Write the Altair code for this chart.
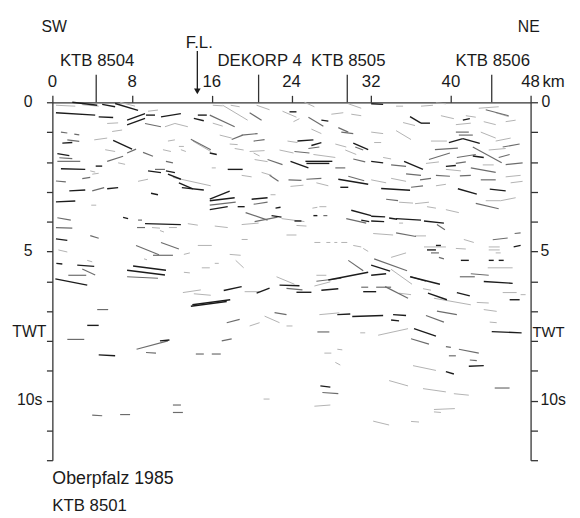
import altair as alt
import pandas as pd

# ---- reflector segments: (km1, s1, km2, s2) ----
DARK = [
    (2.0,0.0,4.5,0.1),(5.0,0.07,6.3,0.15),(6.3,0.04,8.6,0.27),(0.36,0.35,4.3,0.43),
    (4.65,0.49,6.1,0.51),(7.5,0.6,9.3,0.38),(7.5,0.76,9.3,0.54),(9.4,0.43,10.3,0.43),
    (10.9,0.49,12.9,0.38),(14.6,0.43,15.5,0.43),(14.2,0.54,15.2,0.62),(1.0,1.37,2.0,1.35),
    (6.1,1.28,8.0,1.57),(0.5,1.72,1.7,1.79),(0.86,2.23,3.3,2.25),(4.35,2.14,5.0,2.14),
    (1.7,2.97,3.3,2.94),(5.5,2.9,6.6,2.86),(9.6,2.3,10.9,2.36),(11.4,2.3,12.3,2.36),
    (11.6,2.41,12.9,2.58),(12.7,2.7,14.1,2.9),(13.0,2.86,15.2,2.94),(9.9,3.05,10.6,3.1),
    (23.8,0.32,24.5,0.32),(27.0,0.6,27.7,0.63),(15.8,1.7,16.5,1.75),(24.6,1.3,26.2,1.26),
    (26.0,1.45,27.0,1.35),(23.9,1.98,25.7,2.2),(25.4,1.98,28.1,1.98),(25.5,2.05,27.8,2.05),
    (30.2,1.37,31.7,1.59),(28.7,2.58,31.7,2.75),(28.9,2.85,29.7,2.85),(17.6,2.25,19.1,2.25),
    (15.8,3.25,17.8,2.98),(32.0,0.05,33.2,0.07),(35.9,0.48,37.0,0.7),(37.0,0.7,37.9,0.7),
    (41.2,0.6,41.9,0.55),(39.8,1.35,41.2,1.22),(41.2,1.22,42.9,1.38),(32.0,1.98,33.2,2.03),
    (35.3,1.98,37.2,2.25),(39.5,2.15,40.5,2.12),(42.2,1.8,43.3,1.85),(33.0,2.89,35.9,2.95),
    (40.7,2.9,42.6,3.08),(43.9,2.91,45.5,2.97),(0.36,3.34,2.3,3.31),(0.36,4.58,1.5,4.63),
    (0.4,5.4,1.0,5.42),(2.5,5.46,4.2,5.5),(0.3,5.92,3.5,6.13),(7.1,3.86,7.6,3.9),
    (9.3,4.07,12.9,4.1),(7.5,5.63,11.3,5.79),(8.1,5.49,11.4,5.63),(15.8,3.3,18.3,3.2),
    (15.8,3.6,17.6,3.5),(20.0,3.25,21.6,3.2),(18.6,3.5,19.3,3.5),(22.4,3.55,22.9,3.52),
    (22.0,3.8,23.0,3.85),(24.3,3.98,25.0,3.98),(26.2,3.8,26.6,3.8),(30.0,3.62,32.0,3.8),
    (31.0,3.95,31.8,4.0),(27.7,5.96,31.7,5.7),(27.0,6.3,28.7,6.25),(22.8,6.13,24.8,6.15),
    (24.5,6.37,26.0,6.37),(32.0,3.82,33.4,3.84),(32.0,3.98,33.3,4.0),(33.8,3.88,34.6,3.92),
    (34.5,3.9,37.0,3.95),(37.3,3.98,39.3,4.05),(37.6,4.95,38.5,4.95),(38.5,4.8,39.0,4.8),
    (46.3,4.85,47.0,4.8),(41.0,5.3,41.8,5.3),(43.8,5.3,44.3,5.3),(44.8,5.3,45.3,5.3),
    (32.0,5.46,33.9,5.66),(32.0,5.8,33.5,5.75),(35.9,5.85,38.9,6.1),
    (13.9,6.84,17.5,6.68),(14.05,6.79,17.85,6.62),(17.2,6.31,19.0,6.18),(20.5,6.4,21.8,6.23),
    (10.8,8.0,11.75,7.97),(3.5,7.48,4.65,7.48),(4.65,8.47,6.3,8.5),(28.6,7.12,29.9,7.1),
    (30.1,7.18,33.2,7.15),(34.2,7.12,35.5,7.15),(34.0,7.3,34.8,7.33),(31.2,6.35,32.5,6.35),
    (37.7,6.4,39.6,6.62),(40.6,6.38,41.9,6.49),(43.3,6.01,46.2,6.07),(45.9,6.62,46.9,6.62),
    (44.1,7.69,47.1,7.73),(36.3,7.59,38.5,7.84),(41.8,8.85,43.3,8.83),(39.5,9.03,40.3,9.11),
    (26.9,9.51,27.9,9.55),
]

MID = [
    (9.3,0.71,10.9,0.82),(0.86,1.0,1.5,1.03),(2.2,1.07,2.7,1.09),(1.5,1.26,2.7,1.31),
    (7.5,1.7,8.4,1.57),(9.1,1.68,10.1,1.81),(0.7,1.86,2.0,1.89),(0.5,1.98,2.8,1.98),
    (5.5,1.98,7.1,1.81),(11.4,1.98,12.1,2.03),(13.9,1.24,15.9,1.59),(3.0,2.56,3.8,2.52),
    (0.36,2.64,1.35,2.67),(4.0,2.97,5.2,2.86),(10.3,2.25,11.3,2.25),(15.8,0.43,18.3,0.82),
    (19.8,0.35,21.0,0.6),(25.7,0.5,27.2,0.8),(28.7,0.85,29.7,1.0),(29.0,1.0,30.2,1.05),
    (18.0,1.25,19.1,1.1),(19.0,1.1,20.6,1.05),(20.2,1.3,21.3,1.25),(21.6,1.92,23.1,2.09),
    (25.7,1.55,26.8,1.5),(24.3,1.65,25.8,1.7),(28.4,2.2,29.4,2.2),(30.2,1.9,31.4,2.0),
    (30.4,1.5,31.2,1.6),(29.7,2.48,31.3,2.63),(21.8,2.45,22.7,2.65),(23.7,2.6,25.0,2.62),
    (25.5,2.58,27.0,2.55),(43.5,0.25,45.8,0.45),(40.5,1.0,41.8,1.0),(40.8,1.1,42.2,1.1),
    (42.2,1.5,45.1,2.03),(45.2,1.5,46.9,1.4),(34.0,2.1,35.5,2.15),(37.8,1.92,39.9,1.7),
    (38.4,1.59,40.7,1.54),(40.6,1.85,42.5,1.75),(40.5,2.05,41.5,2.0),(44.8,1.85,45.9,1.75),
    (45.5,2.09,47.2,2.03),(42.0,2.2,44.5,2.35),(38.5,2.45,39.9,2.48),(40.9,2.47,42.0,2.45),
    (36.9,2.6,38.0,2.55),(35.5,2.4,37.0,2.45),(36.0,2.85,37.2,2.8),(43.0,2.6,44.5,2.6),
    (0.5,3.87,1.85,3.95),(0.36,4.2,2.0,4.22),(3.8,4.47,4.65,4.56),(1.6,5.8,3.4,5.8),
    (3.0,5.59,4.3,5.79),(8.6,3.95,9.0,3.95),(8.5,4.2,9.3,4.2),(8.4,4.8,10.7,5.11),
    (10.9,4.7,12.7,4.92),(10.1,5.13,12.1,5.13),(7.5,5.85,10.6,5.9),(15.8,3.45,18.4,3.35),
    (20.2,3.42,21.6,3.35),(19.4,3.7,21.6,3.95),(20.3,4.0,22.6,3.85),(27.2,3.8,27.6,3.8),
    (29.5,3.9,31.5,4.05),(29.7,5.3,31.2,5.65),(26.5,6.0,29.0,5.9),(31.0,6.2,31.7,6.2),
    (33.5,3.25,34.7,3.3),(42.5,3.39,44.8,3.57),(38.6,4.1,39.4,4.27),(34.5,4.38,36.5,4.5),
    (38.0,5.05,38.8,5.05),(38.8,5.2,39.3,5.25),(44.2,4.61,45.7,4.55),(46.4,4.4,47.0,4.38),
    (32.3,5.25,35.6,5.65),(36.0,5.85,37.5,6.0),(40.9,5.85,42.4,5.85),(42.0,5.75,43.8,5.8),
    (32.5,6.2,34.0,6.2),
    (17.5,7.39,18.8,7.28),(17.0,8.0,18.0,7.93),(22.3,7.05,23.5,7.12),(14.4,8.44,15.2,8.44),
    (16.0,8.44,16.9,8.44),(8.45,8.28,11.6,8.0),(9.4,8.39,10.4,8.41),(1.5,7.95,3.2,7.95),
    (4.5,6.95,5.6,6.95),(4.0,10.49,5.0,10.51),(6.8,10.47,7.8,10.47),(12.1,10.15,12.9,10.15),
    (12.1,10.4,13.1,10.4),(23.5,6.24,25.1,6.29),(33.4,6.18,35.7,6.57),(37.5,7.15,39.3,7.37),
    (38.6,7.0,40.6,7.12),(36.0,7.93,37.8,8.11),(26.6,7.7,27.8,7.7),(39.5,8.19,40.0,8.22),
    (40.8,8.28,42.8,8.41),(39.8,8.5,40.5,8.5),(41.9,8.64,42.6,8.66),(44.4,9.58,45.9,9.58),
    (27.1,9.73,28.7,9.77),
]

LIGHT = [
    (0.36,0.1,2.3,0.13),(3.0,0.08,4.65,0.13),(6.8,0.0,8.3,0.13),(9.6,0.3,10.6,0.26),
    (11.3,0.82,12.3,0.71),(12.3,0.71,13.6,0.82),(5.5,0.71,6.6,0.69),(6.0,0.98,7.0,0.93),
    (4.2,1.26,5.5,1.2),(5.3,1.59,6.3,1.65),(6.6,2.03,7.3,2.08),(11.1,1.59,11.9,1.65),
    (11.6,1.3,12.3,1.26),(12.7,1.48,13.2,1.48),(12.9,1.59,13.4,1.65),(14.1,1.3,15.9,1.65),
    (3.8,2.3,4.3,2.34),(4.0,2.41,4.65,2.38),(8.6,2.65,9.6,2.58),(12.1,2.52,15.9,2.8),
    (16.1,0.1,17.1,0.12),(17.9,0.1,18.8,0.15),(17.1,0.1,19.6,0.6),(16.1,0.7,17.1,0.8),
    (20.5,0.1,21.8,0.25),(23.1,0.3,24.5,0.5),(24.2,0.65,24.8,0.55),(25.3,0.0,26.3,0.15),
    (28.0,0.4,29.2,0.35),(26.0,0.9,27.0,1.05),(29.7,0.05,31.0,0.2),(30.0,0.4,31.0,0.45),
    (16.8,1.1,18.0,1.2),(17.8,1.4,18.6,1.42),(18.3,1.55,19.2,1.6),(19.8,1.65,21.3,1.62),
    (20.2,1.7,20.8,1.8),(20.3,1.92,21.6,1.99),(22.8,1.6,24.2,1.7),(23.6,1.3,24.6,1.35),
    (26.2,1.75,28.4,1.85),(28.4,1.4,29.5,1.5),(29.4,1.6,30.5,1.75),(16.0,2.2,16.4,2.2),
    (19.0,2.45,20.0,2.5),(21.0,2.35,22.0,2.45),(23.9,2.82,25.2,2.78),(26.5,2.7,27.7,2.8),
    (34.5,0.13,35.2,0.13),(37.0,0.13,38.2,0.1),(38.5,0.02,39.5,0.05),(42.8,0.2,44.8,0.15),
    (44.5,0.35,45.8,0.48),(35.2,0.68,36.4,0.78),(39.0,0.45,40.3,0.55),(40.5,0.75,42.0,0.7),
    (41.5,0.45,42.5,0.5),(43.3,0.65,44.5,0.75),(45.5,0.65,46.5,0.6),(34.5,0.95,36.0,1.25),
    (32.0,1.0,33.2,1.05),(32.3,1.35,33.0,1.35),(38.0,1.3,39.6,1.3),(43.0,1.0,44.5,1.2),
    (44.5,1.3,46.0,1.2),(43.8,1.6,45.5,1.55),(33.2,1.85,34.0,1.9),(37.5,2.05,38.8,2.0),
    (43.2,2.1,44.3,2.1),(39.5,2.25,41.0,2.3),(34.0,2.55,35.5,2.65),(32.0,2.6,33.5,2.7),
    (38.5,2.8,39.5,2.75),(45.5,2.5,47.0,2.45),(46.0,2.7,47.2,2.65),(3.9,3.45,4.4,3.45),
    (0.6,4.95,1.5,5.02),(3.5,5.3,4.0,5.35),(10.0,4.2,10.8,4.22),(11.7,4.2,12.5,4.2),
    (10.8,4.3,11.2,4.35),(13.6,4.07,14.6,4.12),(9.2,5.25,9.5,5.28),(13.2,5.1,13.8,5.05),
    (14.6,4.8,16.0,4.8),(13.2,5.7,13.8,5.72),(15.0,5.55,15.8,5.55),(21.9,3.1,22.4,3.1),
    (19.0,4.1,20.7,4.05),(16.3,4.15,17.6,4.2),(23.0,3.9,25.3,4.0),(24.5,4.13,25.5,4.15),
    (23.5,4.45,24.5,4.45),(19.0,4.6,19.6,4.6),(26.1,3.55,26.6,3.52),(26.8,3.5,27.5,3.5),
    (26.3,4.7,26.9,4.7),(27.5,4.7,27.9,4.7),(28.3,4.7,28.6,4.7),(29.0,4.7,29.6,4.7),
    (30.2,4.8,31.0,4.85),(31.2,4.9,31.7,5.0),(17.8,5.1,18.9,5.13),(18.4,5.3,19.2,5.55),
    (16.3,5.4,16.7,5.4),(26.5,5.8,27.5,5.8),(22.5,5.85,24.3,6.1),(34.8,3.35,36.2,3.38),
    (36.4,3.4,37.8,3.35),(37.6,3.5,38.5,3.55),(39.5,3.6,40.8,3.7),(43.5,3.3,45.0,3.3),
    (45.0,3.3,46.5,3.2),(34.8,4.05,35.2,4.05),(32.2,4.4,34.2,4.45),(36.4,4.48,37.5,4.48),
    (37.3,4.85,39.5,4.85),(40.5,4.9,41.5,4.92),(41.3,4.6,42.3,4.7),(44.5,5.05,45.0,5.05),
    (43.8,4.85,44.9,4.85),(43.8,4.95,44.9,4.95),(43.7,5.55,46.2,5.55),(34.0,5.2,35.5,5.05),
    (34.0,5.6,36.1,6.1),(37.2,6.25,38.0,6.3),(34.8,6.4,36.0,6.45),(47.0,6.45,47.5,6.45),
    (13.1,6.38,14.9,6.29),(14.2,6.42,15.9,6.47),(19.3,6.35,20.8,6.35),(19.8,7.5,20.8,7.39),
    (21.3,7.17,22.8,7.39),(21.2,9.95,21.8,9.95),(26.3,6.16,27.9,6.02),(38.3,6.57,42.0,6.79),
    (45.2,6.38,46.6,6.38),(42.6,6.71,43.8,6.73),(43.3,6.95,44.6,7.01),(43.9,7.37,44.6,7.39),
    (32.7,7.81,35.7,7.59),(30.9,7.73,31.4,7.73),(23.5,7.5,24.1,7.5),(26.8,7.12,28.8,7.06),
    (28.6,8.28,29.1,8.3),(27.3,8.41,28.0,8.41),(28.4,8.72,28.9,8.81),(36.2,8.83,38.5,8.99),
    (33.8,9.33,35.7,9.51),(37.2,9.6,39.5,9.71),(40.3,9.77,41.8,9.82),(26.3,10.19,27.9,10.15),
    (38.3,10.3,40.4,10.27),(38.3,10.38,39.0,10.4),(32.2,10.69,33.8,10.82),(36.0,10.7,36.8,10.72),
]

# ---- axes / annotation values ----
TIME_TICKS = list(range(13))
KM_TICKS = [0, 8, 16, 24, 32, 40, 48]
KM_LABELS = ["0", "8", "16", "24", "32", "40", "48"]
STATION_KM = [4.4, 20.7, 29.6, 44.1]
STATION_NAMES = ["KTB 8504", "DEKORP 4", "KTB 8505", "KTB 8506"]
FAULT_KM = 14.55
TWT_VALUES = [0, 5, 7.72, 10]
TWT_LABELS = ["0", "5", "TWT", "10s"]

FONT = "Liberation Sans"
TXT = "#1a1a1a"
AX = "#333333"

rows = []
for w, segs in ((1, LIGHT), (2, MID), (3, DARK)):
    for a, b, c, d in segs:
        rows.append({"x": a, "t": b, "x2": c, "t2": d, "w": w})
seg_df = pd.DataFrame(rows)

XS = alt.Scale(domain=[0, 48], nice=False, zero=False)
YS = alt.Scale(domain=[0, 12], reverse=True, nice=False, zero=False)

axis_common = dict(labels=False, title=None, grid=False, domainColor=AX, tickColor=AX,
                   domainWidth=1.3, tickWidth=1.3)

segments = alt.Chart(seg_df).mark_rule(strokeCap="butt").encode(
    x=alt.X("x:Q", scale=XS, axis=alt.Axis(orient="top", values=KM_TICKS, tickSize=7, **axis_common)),
    x2="x2:Q",
    y=alt.Y("t:Q", scale=YS, axis=alt.Axis(orient="left", values=TIME_TICKS, tickSize=6, **axis_common)),
    y2="t2:Q",
    color=alt.Color("w:O", scale=alt.Scale(domain=[1, 2, 3], range=["#b2b2b2", "#6c6c6c", "#1c1c1c"]), legend=None),
    strokeWidth=alt.StrokeWidth("w:O", scale=alt.Scale(domain=[1, 2, 3], range=[1.0, 1.4, 2.1]), legend=None),
)

# right-side time labels (their x offsets are layout, not data)
right_x = {"0": 496, "5": 495, "TWT": 487, "10s": 495}
right_size = {"0": 16, "5": 16, "TWT": 15, "10s": 16}
right_layers = []
for i, (lab, val) in enumerate(zip(TWT_LABELS, TWT_VALUES)):
    ax = alt.Axis(orient="right", values=TIME_TICKS, tickSize=7, **axis_common) if i == 0 else None
    right_layers.append(
        alt.Chart(pd.DataFrame({"t": [val], "label": [lab]})).mark_text(
            align="left", baseline="middle", font=FONT, fontSize=right_size[lab], color=TXT
        ).encode(x=alt.value(right_x[lab]), y=alt.Y("t:Q", scale=YS, axis=ax), text="label:N")
    )

left_edges = {"0": -20, "5": -20, "TWT": -6, "10s": -10}
left_layers = []
for lab, val in zip(TWT_LABELS, TWT_VALUES):
    left_layers.append(
        alt.Chart(pd.DataFrame({"t": [val], "label": [lab]})).mark_text(
            align="right", baseline="middle", font=FONT, fontSize=16, color=TXT
        ).encode(x=alt.value(left_edges[lab]), y=alt.Y("t:Q", scale=YS, axis=None), text="label:N")
    )

km_df = pd.DataFrame({"km": KM_TICKS, "label": KM_LABELS})
km_labels = alt.Chart(km_df).mark_text(baseline="middle", font=FONT, fontSize=17, color=TXT).encode(
    x=alt.X("km:Q", scale=XS, axis=None), y=alt.value(-20), text="label:N"
)
km_unit = alt.Chart(pd.DataFrame({"km": [KM_TICKS[-1]], "label": ["km"]})).mark_text(
    align="left", baseline="middle", font=FONT, fontSize=17, color=TXT, dx=12
).encode(x=alt.X("km:Q", scale=XS, axis=None), y=alt.value(-20), text="label:N")

st_df = pd.DataFrame({"km": STATION_KM, "name": STATION_NAMES})
st_ticks = alt.Chart(st_df).mark_rule(color=AX, strokeWidth=1.3).encode(
    x=alt.X("km:Q", scale=XS, axis=None), y=alt.value(-28), y2=alt.value(0)
)
st_labels = alt.Chart(st_df).mark_text(baseline="middle", font=FONT, fontSize=17, color=TXT, dx=1).encode(
    x=alt.X("km:Q", scale=XS, axis=None), y=alt.value(-42), text="name:N"
)

fl_df = pd.DataFrame({"km": [FAULT_KM], "label": ["F.L."]})
fl_shaft = alt.Chart(fl_df).mark_rule(color=TXT, strokeWidth=1.3).encode(
    x=alt.X("km:Q", scale=XS, axis=None), y=alt.value(-52), y2=alt.value(-12)
)
fl_head = alt.Chart(fl_df).mark_point(shape="triangle-down", filled=True, size=45, color=TXT, opacity=1).encode(
    x=alt.X("km:Q", scale=XS, axis=None), y=alt.value(-11)
)
fl_text = alt.Chart(fl_df).mark_text(baseline="middle", font=FONT, fontSize=17, color=TXT, dx=2).encode(
    x=alt.X("km:Q", scale=XS, axis=None), y=alt.value(-60), text="label:N"
)


def note(label, px, py, size=17, align="left"):
    return alt.Chart(pd.DataFrame({"label": [label]})).mark_text(
        align=align, baseline="middle", font=FONT, fontSize=size, color=TXT
    ).encode(x=alt.value(px), y=alt.value(py), text="label:N")


chart = alt.layer(
    segments, *right_layers, *left_layers, km_labels, km_unit, st_ticks, st_labels,
    fl_shaft, fl_head, fl_text,
    note("SW", -11, -76, 16), note("NE", 472, -76, 16),
    note("Oberpfalz 1985", 0, 382, 18), note("KTB 8501", 0, 410, 17),
).resolve_axis(x="independent", y="independent").properties(
    width=485, height=363,
    padding={"left": 45, "top": 92, "right": 42, "bottom": 55},
    autosize=alt.AutoSizeParams(type="none"),
).configure_view(stroke=None)

chart.save("out.html", embed_options={"renderer": "svg", "actions": False})
